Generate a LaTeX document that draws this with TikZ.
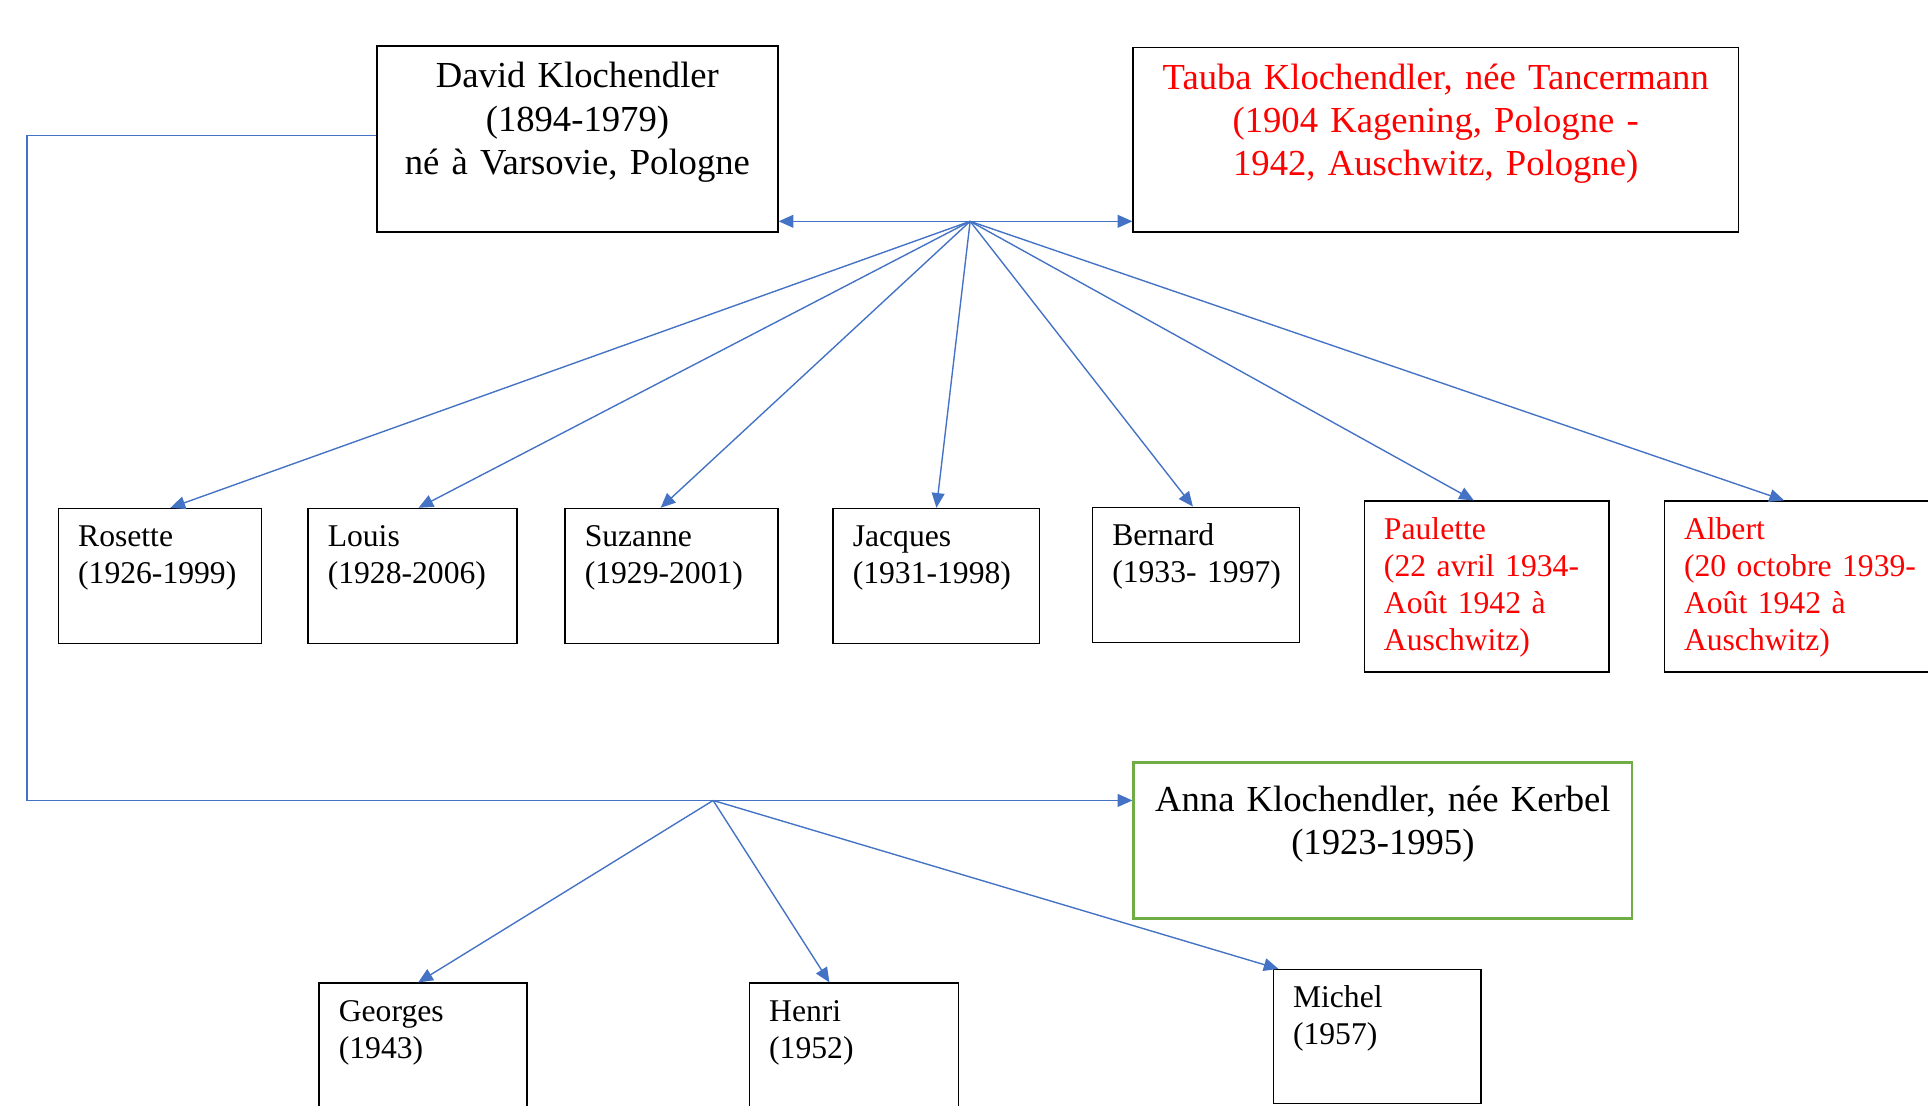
\documentclass[tikz,border=0pt]{standalone}
\usepackage{fontspec}
\setmainfont{Liberation Serif}
\usetikzlibrary{arrows.meta}
\definecolor{linkblue}{HTML}{4472C4}
\definecolor{deadred}{HTML}{FF0000}
\definecolor{annagreen}{HTML}{70AD47}
\newcommand{\bigtxt}{\fontsize{10.6}{12.45}\selectfont}
\newcommand{\smalltxt}{\fontsize{9.15}{10.7}\selectfont}

\begin{document}
\begin{tikzpicture}[x=0.0125cm,y=-0.0125cm,
  parent/.style={draw,anchor=north west,align=center,font=\bigtxt,inner xsep=0.1cm,inner ysep=0pt},
  kid/.style={draw,anchor=north west,align=left,font=\smalltxt,inner xsep=0.2cm,inner ysep=0pt,text height=0.385cm},
  gone/.style={text=deadred},
  link/.style={draw=linkblue,line width=0.4pt},
  arr/.style={link,-{Triangle[length=0.15cm,width=0.13cm]}}]
  \useasboundingbox (0,0) rectangle (1568,899);
  \clip (0,0) rectangle (1568,899);
  % parents
  \node[parent,text width=3.875cm,text height=0.425cm,text depth=1.4625cm] (david) at (306,37) {David Klochendler\\(1894-1979)\\né à Varsovie, Pologne};
  \node[parent,gone,text width=5.95cm,text height=0.43cm,text depth=1.445cm] (tauba) at (921,38) {Tauba Klochendler, née Tancermann\\(1904 Kagening, Pologne -\\1942, Auschwitz, Pologne)};
  \node[parent,draw=annagreen,line width=0.8pt,text width=4.8625cm,text height=0.5cm,text depth=1.0875cm] (anna) at (921,619) {Anna Klochendler, née Kerbel\\(1923-1995)};
  % children of David and Tauba
  \node[kid,text width=1.6625cm,text depth=0.99cm] (rosette) at (47,413) {Rosette\\(1926-1999)};
  \node[kid,text width=1.725cm,text depth=0.99cm] (louis) at (250,413) {Louis\\(1928-2006)};
  \node[kid,text width=1.7625cm,text depth=0.99cm] (suzanne) at (459,413) {Suzanne\\(1929-2001)};
  \node[kid,text width=1.7cm,text depth=0.99cm] (jacques) at (677,413) {Jacques\\(1931-1998)};
  \node[kid,text width=1.7cm,text depth=0.99cm] (bernard) at (888,412) {Bernard\\\mbox{(1933- 1997)}};
  \node[kid,gone,text width=2.0875cm,text depth=1.3525cm] (paulette) at (1109,407) {Paulette\\(22 avril 1934-\\Août 1942 à\\Auschwitz)};
  \node[kid,gone,text width=2.6cm,text depth=1.3525cm] (albert) at (1353,407) {Albert\\(20 octobre 1939-\\Août 1942 à\\Auschwitz)};
  % children of David and Anna
  \node[kid,text width=1.7125cm,text depth=1.24cm] (georges) at (259,799) {Georges\\(1943)};
  \node[kid,text width=1.725cm,text depth=1.24cm] (henri) at (609,799) {Henri\\(1952)};
  \node[kid,text width=1.7125cm,text depth=0.9775cm] (michel) at (1035,788) {Michel\\(1957)};
  % first couple
  \coordinate (h1) at (789,180);
  \draw[arr] (h1) -- (h1 -| david.east);
  \draw[arr] (h1) -- (h1 -| tauba.west);
  \draw[arr] (h1) -- ([xshift=0.106cm]rosette.north);
  \draw[arr] (h1) -- ([xshift=0.06cm]louis.north);
  \draw[arr] (h1) -- ([xshift=-0.11cm]suzanne.north);
  \draw[arr] (h1) -- (jacques.north);
  \draw[arr] (h1) -- ([xshift=-0.03cm]bernard.north);
  \draw[arr] (h1) -- ([xshift=-0.13cm]paulette.north);
  \draw[arr] (h1) -- ([xshift=1.225cm]albert.north west);
  % second couple
  \coordinate (c1) at (22,110);
  \coordinate (h2) at (580,651);
  \draw[arr] (david.west |- c1) -- (c1) -- (c1 |- h2) -- (h2 -| anna.west);
  \draw[arr] (h2) -- ([xshift=-0.05cm]georges.north);
  \draw[arr] (h2) -- ([xshift=-0.25cm]henri.north);
  \draw[arr] (h2) -- ([xshift=0.06cm]michel.north west);
\end{tikzpicture}
\end{document}
